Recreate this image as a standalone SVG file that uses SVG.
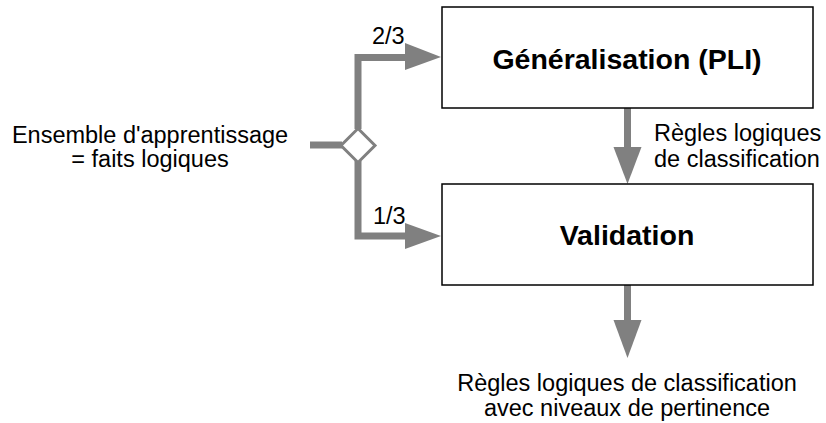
<svg xmlns="http://www.w3.org/2000/svg" width="826" height="423" viewBox="0 0 826 423">
<style>
.box{fill:#fff;stroke:#000;stroke-width:1.5}
.line{fill:none;stroke:#808080;stroke-width:7;stroke-linejoin:miter;stroke-linecap:butt}
.head{fill:#808080;stroke:none}
.title{font-family:"Liberation Sans",Arial,sans-serif;font-weight:bold;font-size:28.5px;fill:#000;text-anchor:middle}
.lbl{font-family:"Liberation Sans",Arial,sans-serif;font-size:23.5px;fill:#000}
.mid{text-anchor:middle}
</style>
<g id="connectors">
<polyline class="line" points="310,145 342,145"/>
<polyline class="line" points="358,129 358,57.5 406,57.5"/>
<polygon class="head" points="405,43 441,57 405,70"/>
<polyline class="line" points="358,161 358,236 406,236"/>
<polygon class="head" points="405,223 441,236 405,249"/>
<line class="line" x1="627.5" y1="108" x2="627.5" y2="148"/>
<polygon class="head" points="613.5,147 641.5,147 627.5,184"/>
<line class="line" x1="627.5" y1="285" x2="627.5" y2="321"/>
<polygon class="head" points="613.5,320 641.5,320 627.5,358"/>
<text class="lbl" x="372" y="43.5" font-size="22.5">2/3</text>
<text class="lbl" x="373" y="223.5" font-size="22.5">1/3</text>
<text class="lbl" x="654" y="141">Règles logiques</text>
<text class="lbl" x="654" y="167">de classification</text>
</g>
<g id="decision">
<polygon points="358,128.5 375,145.5 358,162.5 341,145.5" fill="#fff" stroke="#808080" stroke-width="3"/>
</g>
<g id="input">
<text class="lbl mid" x="150" y="142.5">Ensemble d'apprentissage</text>
<text class="lbl mid" x="150" y="167">= faits logiques</text>
</g>
<g id="generalisation">
<rect class="box" x="442" y="7" width="371" height="101"/>
<text class="title" x="627" y="68.5">Généralisation (PLI)</text>
</g>
<g id="validation">
<rect class="box" x="442" y="184" width="371" height="101"/>
<text class="title" x="627" y="245">Validation</text>
</g>
<g id="output">
<text class="lbl mid" x="627" y="391">Règles logiques de classification</text>
<text class="lbl mid" x="627" y="416">avec niveaux de pertinence</text>
</g>
</svg>
